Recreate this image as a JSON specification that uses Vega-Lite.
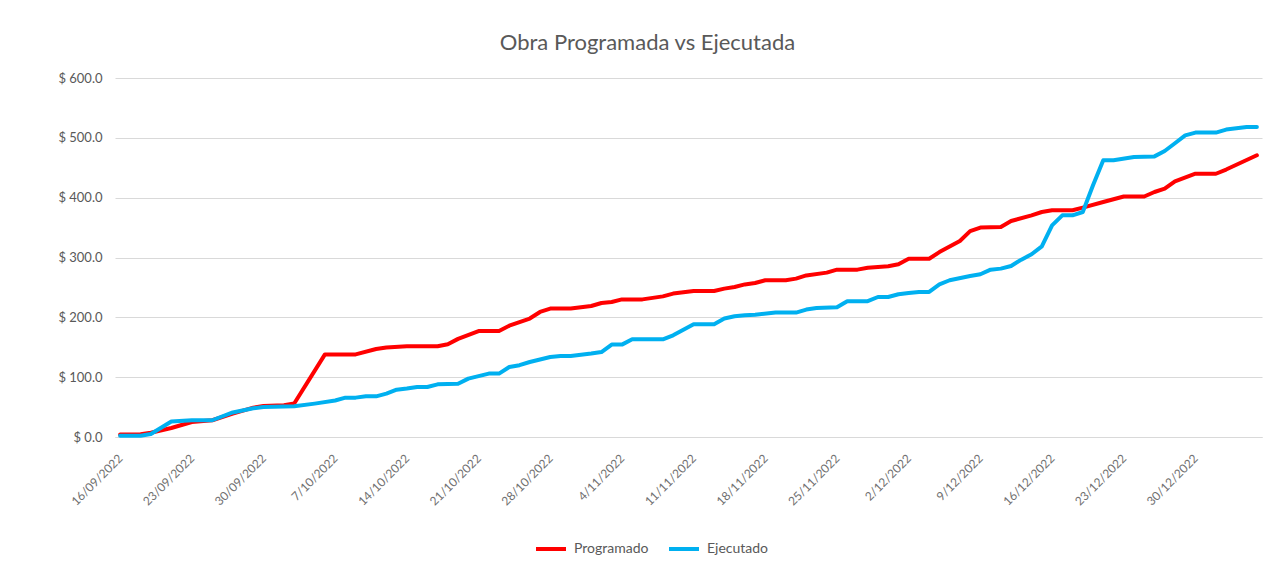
{
  "$schema": "https://vega.github.io/schema/vega-lite/v6.json",
  "width": 1147,
  "height": 359,
  "autosize": "none",
  "padding": {"left": 115, "top": 78, "right": 12, "bottom": 128},
  "background": "white",
  "title": {
    "text": "Obra Programada vs Ejecutada",
    "font": "Lato",
    "fontSize": 22,
    "fontWeight": "normal",
    "color": "#595959",
    "anchor": "middle",
    "dx": -41,
    "offset": 17
  },
  "config": {
    "view": {"stroke": null},
    "font": "Lato"
  },
  "datasets": {
    "obra": [
      {"fecha": "2022-09-16", "serie": "Programado", "valor": 4},
      {"fecha": "2022-09-18", "serie": "Programado", "valor": 4.5},
      {"fecha": "2022-09-19", "serie": "Programado", "valor": 7},
      {"fecha": "2022-09-21", "serie": "Programado", "valor": 15},
      {"fecha": "2022-09-23", "serie": "Programado", "valor": 25},
      {"fecha": "2022-09-25", "serie": "Programado", "valor": 28},
      {"fecha": "2022-09-27", "serie": "Programado", "valor": 39},
      {"fecha": "2022-09-29", "serie": "Programado", "valor": 49},
      {"fecha": "2022-09-30", "serie": "Programado", "valor": 52},
      {"fecha": "2022-10-02", "serie": "Programado", "valor": 53},
      {"fecha": "2022-10-03", "serie": "Programado", "valor": 56},
      {"fecha": "2022-10-06", "serie": "Programado", "valor": 138},
      {"fecha": "2022-10-09", "serie": "Programado", "valor": 138},
      {"fecha": "2022-10-11", "serie": "Programado", "valor": 147},
      {"fecha": "2022-10-12", "serie": "Programado", "valor": 149.5},
      {"fecha": "2022-10-14", "serie": "Programado", "valor": 151.5},
      {"fecha": "2022-10-17", "serie": "Programado", "valor": 151.6},
      {"fecha": "2022-10-18", "serie": "Programado", "valor": 155},
      {"fecha": "2022-10-19", "serie": "Programado", "valor": 164},
      {"fecha": "2022-10-21", "serie": "Programado", "valor": 177},
      {"fecha": "2022-10-23", "serie": "Programado", "valor": 177},
      {"fecha": "2022-10-24", "serie": "Programado", "valor": 186},
      {"fecha": "2022-10-26", "serie": "Programado", "valor": 198},
      {"fecha": "2022-10-27", "serie": "Programado", "valor": 209},
      {"fecha": "2022-10-28", "serie": "Programado", "valor": 214.6},
      {"fecha": "2022-10-30", "serie": "Programado", "valor": 214.6},
      {"fecha": "2022-11-01", "serie": "Programado", "valor": 219},
      {"fecha": "2022-11-02", "serie": "Programado", "valor": 224},
      {"fecha": "2022-11-03", "serie": "Programado", "valor": 225.6},
      {"fecha": "2022-11-04", "serie": "Programado", "valor": 230},
      {"fecha": "2022-11-06", "serie": "Programado", "valor": 230},
      {"fecha": "2022-11-08", "serie": "Programado", "valor": 235},
      {"fecha": "2022-11-09", "serie": "Programado", "valor": 239.7},
      {"fecha": "2022-11-11", "serie": "Programado", "valor": 244},
      {"fecha": "2022-11-13", "serie": "Programado", "valor": 244},
      {"fecha": "2022-11-14", "serie": "Programado", "valor": 248},
      {"fecha": "2022-11-15", "serie": "Programado", "valor": 250.7},
      {"fecha": "2022-11-16", "serie": "Programado", "valor": 255},
      {"fecha": "2022-11-17", "serie": "Programado", "valor": 257.4},
      {"fecha": "2022-11-18", "serie": "Programado", "valor": 262},
      {"fecha": "2022-11-20", "serie": "Programado", "valor": 262},
      {"fecha": "2022-11-21", "serie": "Programado", "valor": 264.7},
      {"fecha": "2022-11-22", "serie": "Programado", "valor": 270},
      {"fecha": "2022-11-24", "serie": "Programado", "valor": 274.7},
      {"fecha": "2022-11-25", "serie": "Programado", "valor": 279.7},
      {"fecha": "2022-11-27", "serie": "Programado", "valor": 279.7},
      {"fecha": "2022-11-28", "serie": "Programado", "valor": 283},
      {"fecha": "2022-11-30", "serie": "Programado", "valor": 285.3},
      {"fecha": "2022-12-01", "serie": "Programado", "valor": 288.6},
      {"fecha": "2022-12-02", "serie": "Programado", "valor": 298},
      {"fecha": "2022-12-04", "serie": "Programado", "valor": 298},
      {"fecha": "2022-12-05", "serie": "Programado", "valor": 309},
      {"fecha": "2022-12-07", "serie": "Programado", "valor": 327.6},
      {"fecha": "2022-12-08", "serie": "Programado", "valor": 344},
      {"fecha": "2022-12-09", "serie": "Programado", "valor": 350},
      {"fecha": "2022-12-11", "serie": "Programado", "valor": 351},
      {"fecha": "2022-12-12", "serie": "Programado", "valor": 361},
      {"fecha": "2022-12-14", "serie": "Programado", "valor": 370.5},
      {"fecha": "2022-12-15", "serie": "Programado", "valor": 376},
      {"fecha": "2022-12-16", "serie": "Programado", "valor": 379},
      {"fecha": "2022-12-18", "serie": "Programado", "valor": 379},
      {"fecha": "2022-12-19", "serie": "Programado", "valor": 383.4},
      {"fecha": "2022-12-21", "serie": "Programado", "valor": 392.8},
      {"fecha": "2022-12-23", "serie": "Programado", "valor": 402},
      {"fecha": "2022-12-25", "serie": "Programado", "valor": 402},
      {"fecha": "2022-12-26", "serie": "Programado", "valor": 409.5},
      {"fecha": "2022-12-27", "serie": "Programado", "valor": 415},
      {"fecha": "2022-12-28", "serie": "Programado", "valor": 427.4},
      {"fecha": "2022-12-30", "serie": "Programado", "valor": 440},
      {"fecha": "2023-01-01", "serie": "Programado", "valor": 440},
      {"fecha": "2023-01-02", "serie": "Programado", "valor": 447},
      {"fecha": "2023-01-05", "serie": "Programado", "valor": 470.8},
      {"fecha": "2022-09-16", "serie": "Ejecutado", "valor": 2},
      {"fecha": "2022-09-18", "serie": "Ejecutado", "valor": 2},
      {"fecha": "2022-09-19", "serie": "Ejecutado", "valor": 5},
      {"fecha": "2022-09-21", "serie": "Ejecutado", "valor": 26},
      {"fecha": "2022-09-23", "serie": "Ejecutado", "valor": 28},
      {"fecha": "2022-09-25", "serie": "Ejecutado", "valor": 28},
      {"fecha": "2022-09-27", "serie": "Ejecutado", "valor": 41},
      {"fecha": "2022-09-29", "serie": "Ejecutado", "valor": 48},
      {"fecha": "2022-09-30", "serie": "Ejecutado", "valor": 50},
      {"fecha": "2022-10-03", "serie": "Ejecutado", "valor": 51.3},
      {"fecha": "2022-10-05", "serie": "Ejecutado", "valor": 55.8},
      {"fecha": "2022-10-07", "serie": "Ejecutado", "valor": 61},
      {"fecha": "2022-10-08", "serie": "Ejecutado", "valor": 65.8},
      {"fecha": "2022-10-09", "serie": "Ejecutado", "valor": 65.8},
      {"fecha": "2022-10-10", "serie": "Ejecutado", "valor": 68},
      {"fecha": "2022-10-11", "serie": "Ejecutado", "valor": 68},
      {"fecha": "2022-10-12", "serie": "Ejecutado", "valor": 72.5},
      {"fecha": "2022-10-13", "serie": "Ejecutado", "valor": 79},
      {"fecha": "2022-10-14", "serie": "Ejecutado", "valor": 81},
      {"fecha": "2022-10-15", "serie": "Ejecutado", "valor": 83.6},
      {"fecha": "2022-10-16", "serie": "Ejecutado", "valor": 83.6},
      {"fecha": "2022-10-17", "serie": "Ejecutado", "valor": 88},
      {"fecha": "2022-10-19", "serie": "Ejecutado", "valor": 89},
      {"fecha": "2022-10-20", "serie": "Ejecutado", "valor": 97.6},
      {"fecha": "2022-10-22", "serie": "Ejecutado", "valor": 106},
      {"fecha": "2022-10-23", "serie": "Ejecutado", "valor": 106},
      {"fecha": "2022-10-24", "serie": "Ejecutado", "valor": 117},
      {"fecha": "2022-10-25", "serie": "Ejecutado", "valor": 120},
      {"fecha": "2022-10-26", "serie": "Ejecutado", "valor": 125.4},
      {"fecha": "2022-10-28", "serie": "Ejecutado", "valor": 133.7},
      {"fecha": "2022-10-29", "serie": "Ejecutado", "valor": 135.4},
      {"fecha": "2022-10-30", "serie": "Ejecutado", "valor": 135.4},
      {"fecha": "2022-11-01", "serie": "Ejecutado", "valor": 139.4},
      {"fecha": "2022-11-02", "serie": "Ejecutado", "valor": 142},
      {"fecha": "2022-11-03", "serie": "Ejecutado", "valor": 154.4},
      {"fecha": "2022-11-04", "serie": "Ejecutado", "valor": 154.4},
      {"fecha": "2022-11-05", "serie": "Ejecutado", "valor": 163.3},
      {"fecha": "2022-11-08", "serie": "Ejecutado", "valor": 163.3},
      {"fecha": "2022-11-09", "serie": "Ejecutado", "valor": 170},
      {"fecha": "2022-11-11", "serie": "Ejecutado", "valor": 188.4},
      {"fecha": "2022-11-13", "serie": "Ejecutado", "valor": 188.4},
      {"fecha": "2022-11-14", "serie": "Ejecutado", "valor": 198},
      {"fecha": "2022-11-15", "serie": "Ejecutado", "valor": 201.7},
      {"fecha": "2022-11-16", "serie": "Ejecutado", "valor": 203.4},
      {"fecha": "2022-11-17", "serie": "Ejecutado", "valor": 204.5},
      {"fecha": "2022-11-19", "serie": "Ejecutado", "valor": 208},
      {"fecha": "2022-11-21", "serie": "Ejecutado", "valor": 208},
      {"fecha": "2022-11-22", "serie": "Ejecutado", "valor": 213},
      {"fecha": "2022-11-23", "serie": "Ejecutado", "valor": 215.5},
      {"fecha": "2022-11-25", "serie": "Ejecutado", "valor": 217},
      {"fecha": "2022-11-26", "serie": "Ejecutado", "valor": 227},
      {"fecha": "2022-11-28", "serie": "Ejecutado", "valor": 227},
      {"fecha": "2022-11-29", "serie": "Ejecutado", "valor": 234},
      {"fecha": "2022-11-30", "serie": "Ejecutado", "valor": 234},
      {"fecha": "2022-12-01", "serie": "Ejecutado", "valor": 238.5},
      {"fecha": "2022-12-02", "serie": "Ejecutado", "valor": 240.7},
      {"fecha": "2022-12-03", "serie": "Ejecutado", "valor": 242.4},
      {"fecha": "2022-12-04", "serie": "Ejecutado", "valor": 242.4},
      {"fecha": "2022-12-05", "serie": "Ejecutado", "valor": 255},
      {"fecha": "2022-12-06", "serie": "Ejecutado", "valor": 262},
      {"fecha": "2022-12-08", "serie": "Ejecutado", "valor": 269},
      {"fecha": "2022-12-09", "serie": "Ejecutado", "valor": 272},
      {"fecha": "2022-12-10", "serie": "Ejecutado", "valor": 279.7},
      {"fecha": "2022-12-11", "serie": "Ejecutado", "valor": 281.4},
      {"fecha": "2022-12-12", "serie": "Ejecutado", "valor": 285.8},
      {"fecha": "2022-12-13", "serie": "Ejecutado", "valor": 296.4},
      {"fecha": "2022-12-14", "serie": "Ejecutado", "valor": 305.4},
      {"fecha": "2022-12-15", "serie": "Ejecutado", "valor": 318.7},
      {"fecha": "2022-12-16", "serie": "Ejecutado", "valor": 353.8},
      {"fecha": "2022-12-17", "serie": "Ejecutado", "valor": 370.5},
      {"fecha": "2022-12-18", "serie": "Ejecutado", "valor": 370.5},
      {"fecha": "2022-12-19", "serie": "Ejecutado", "valor": 376},
      {"fecha": "2022-12-20", "serie": "Ejecutado", "valor": 420.7},
      {"fecha": "2022-12-21", "serie": "Ejecutado", "valor": 462.5},
      {"fecha": "2022-12-22", "serie": "Ejecutado", "valor": 462.5},
      {"fecha": "2022-12-24", "serie": "Ejecutado", "valor": 468},
      {"fecha": "2022-12-26", "serie": "Ejecutado", "valor": 469},
      {"fecha": "2022-12-27", "serie": "Ejecutado", "valor": 478},
      {"fecha": "2022-12-28", "serie": "Ejecutado", "valor": 491},
      {"fecha": "2022-12-29", "serie": "Ejecutado", "valor": 504},
      {"fecha": "2022-12-30", "serie": "Ejecutado", "valor": 508.8},
      {"fecha": "2023-01-01", "serie": "Ejecutado", "valor": 508.8},
      {"fecha": "2023-01-02", "serie": "Ejecutado", "valor": 513.8},
      {"fecha": "2023-01-04", "serie": "Ejecutado", "valor": 518},
      {"fecha": "2023-01-05", "serie": "Ejecutado", "valor": 518}
    ]
  },
  "data": {"name": "obra"},
  "mark": {"type": "line", "strokeWidth": 4, "strokeJoin": "round", "strokeCap": "round"},
  "encoding": {
    "x": {
      "field": "fecha",
      "type": "temporal",
      "scale": {
        "type": "utc",
        "domain": [
          {"year": 2022, "month": 9, "date": 15, "hours": 12, "utc": true},
          {"year": 2023, "month": 1, "date": 5, "hours": 12, "utc": true}
        ]
      },
      "axis": {
        "title": null,
        "grid": false,
        "ticks": false,
        "domain": true,
        "domainColor": "#d9d9d9",
        "domainWidth": 1,
        "labelExpr": "utcFormat(datum.value, '%-d/%m/%Y')",
        "labelAngle": -45,
        "labelAlign": "right",
        "labelBaseline": "middle",
        "labelPadding": 19,
        "labelFontSize": 12,
        "labelColor": "#6f6f6f",
        "labelFont": "Lato",
        "labelOverlap": false,
        "values": [
          {"year": 2022, "month": 9, "date": 16, "utc": true},
          {"year": 2022, "month": 9, "date": 23, "utc": true},
          {"year": 2022, "month": 9, "date": 30, "utc": true},
          {"year": 2022, "month": 10, "date": 7, "utc": true},
          {"year": 2022, "month": 10, "date": 14, "utc": true},
          {"year": 2022, "month": 10, "date": 21, "utc": true},
          {"year": 2022, "month": 10, "date": 28, "utc": true},
          {"year": 2022, "month": 11, "date": 4, "utc": true},
          {"year": 2022, "month": 11, "date": 11, "utc": true},
          {"year": 2022, "month": 11, "date": 18, "utc": true},
          {"year": 2022, "month": 11, "date": 25, "utc": true},
          {"year": 2022, "month": 12, "date": 2, "utc": true},
          {"year": 2022, "month": 12, "date": 9, "utc": true},
          {"year": 2022, "month": 12, "date": 16, "utc": true},
          {"year": 2022, "month": 12, "date": 23, "utc": true},
          {"year": 2022, "month": 12, "date": 30, "utc": true}
        ]
      }
    },
    "y": {
      "field": "valor",
      "type": "quantitative",
      "scale": {"domain": [0, 600], "nice": false},
      "axis": {
        "title": null,
        "values": [0, 100, 200, 300, 400, 500, 600],
        "labelExpr": "'$ ' + format(datum.value, '.1f')",
        "domain": false,
        "ticks": false,
        "grid": true,
        "gridColor": "#d9d9d9",
        "gridWidth": 1,
        "labelPadding": 13,
        "labelFontSize": 13,
        "labelColor": "#595959",
        "labelFont": "Lato"
      }
    },
    "color": {
      "field": "serie",
      "type": "nominal",
      "sort": ["Programado", "Ejecutado"],
      "scale": {"domain": ["Programado", "Ejecutado"], "range": ["#FF0000", "#00B0F0"]},
      "legend": {
        "title": null,
        "orient": "none",
        "direction": "horizontal",
        "legendX": 419,
        "legendY": 454,
        "symbolType": "stroke",
        "symbolSize": 900,
        "symbolStrokeWidth": 4,
        "labelFontSize": 14,
        "labelColor": "#595959",
        "labelFont": "Lato",
        "labelOffset": 6,
        "columnPadding": 12
      }
    }
  }
}
